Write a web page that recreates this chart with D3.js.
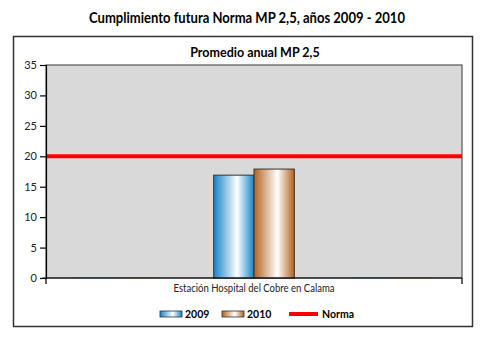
<!DOCTYPE html>
<html><head><meta charset="utf-8">
<script src="https://cdn.jsdelivr.net/npm/d3@7"></script>
<style>body{margin:0;background:#fff}svg{display:block}text{font-family:Lato,sans-serif}</style>
</head><body><svg id="c" width="486" height="339"></svg>
<script>
const categories = ["", "Estación Hospital del Cobre en Calama", ""];
const series2009 = [0, 16.9, 0];
const series2010 = [0, 17.9, 0];
const seriesNames = ["2009", "2010"];
const normaValue = 20;
const yTicks = [0, 5, 10, 15, 20, 25, 30, 35];
const title = "Cumplimiento futura Norma MP 2,5, años 2009 - 2010";
const subtitle = "Promedio anual MP 2,5";

const FONT = 'Lato,sans-serif';
const svg = d3.select("#c");
const defs = svg.append("defs");
function grad(id, c) {
  const g = defs.append("linearGradient").attr("id", id).attr("x1", "0%").attr("x2", "100%");
  g.append("stop").attr("offset", "0%").attr("stop-color", c);
  g.append("stop").attr("offset", "58%").attr("stop-color", "#ffffff");
  g.append("stop").attr("offset", "100%").attr("stop-color", c);
}
grad("gBlue", "#1583c9");
grad("gBrown", "#b3621e");
const fills = ["url(#gBlue)", "url(#gBrown)"];

function squeeze(sel, w) {
  const cur = sel.node().getComputedTextLength();
  if (cur > w) sel.attr("textLength", w).attr("lengthAdjust", "spacingAndGlyphs");
}

const t = svg.append("text").attr("x", 247).attr("y", 23).attr("text-anchor", "middle")
  .attr("font-size", 15.5).attr("font-weight", "bold").attr("fill", "#000").text(title);
squeeze(t, 316);
svg.append("rect").attr("x", 13.5).attr("y", 36.5).attr("width", 459).attr("height", 290)
  .attr("fill", "#fff").attr("stroke", "#333").attr("stroke-width", 1.5);
const st = svg.append("text").attr("x", 255).attr("y", 57).attr("text-anchor", "middle")
  .attr("font-size", 12.5).attr("font-weight", "bold").text(subtitle);
squeeze(st, 131);

const m = {l: 46, r: 462, t: 65, b: 278};
const x = d3.scaleBand().domain(d3.range(categories.length)).range([m.l, m.r]).paddingInner(0).paddingOuter(0);
const y = d3.scaleLinear().domain([0, 35]).range([m.b, m.t]);

svg.append("rect").attr("x", m.l).attr("y", m.t).attr("width", m.r - m.l).attr("height", m.b - m.t)
  .attr("fill", "#d9d9d9").attr("stroke", "#555").attr("stroke-width", 1.2);

const x1 = d3.scaleBand().domain([0, 1]).range([0, x.bandwidth()]).paddingOuter(0.72).paddingInner(0);
const data = [series2009, series2010];
data.forEach((s, si) => {
  svg.append("g").selectAll("rect").data(s).join("rect")
    .attr("x", (d, i) => x(i) + x1(si))
    .attr("y", d => y(d))
    .attr("width", x1.bandwidth())
    .attr("height", d => y(0) - y(d))
    .attr("fill", fills[si])
    .attr("stroke", d => d > 0 ? "#333" : "none").attr("stroke-width", 1);
  svg.append("g").selectAll("line").data(s.map((d, i) => [d, i]).filter(p => p[0] === 0)).join("line")
    .attr("x1", p => x(p[1]) + x1(si)).attr("x2", p => x(p[1]) + x1(si) + x1.bandwidth())
    .attr("y1", y(0) - 0.5).attr("y2", y(0) - 0.5)
    .attr("stroke", si === 0 ? "#4a8ec0" : "#a8733f").attr("stroke-width", 1).attr("opacity", 0.6);
});

svg.append("line").attr("x1", m.l).attr("x2", m.r).attr("y1", y(normaValue)).attr("y2", y(normaValue))
  .attr("stroke", "#ff0000").attr("stroke-width", 4);

const ya = svg.append("g").attr("transform", `translate(${m.l},0)`)
  .call(d3.axisLeft(y).tickValues(yTicks).tickSize(6).tickPadding(3));
ya.select(".domain").attr("stroke", "#000").attr("stroke-width", 1.2);
ya.selectAll(".tick line").attr("stroke", "#000").attr("stroke-width", 1.2);
ya.selectAll("text").attr("font-size", 11).attr("fill", "#222").style("font-family", FONT);

const xa = svg.append("g").attr("transform", `translate(0,${m.b})`)
  .call(d3.axisBottom(x).tickSize(0).tickPadding(6).tickFormat(i => categories[i]));
xa.select(".domain").remove();
xa.selectAll("text").attr("font-size", 11).attr("fill", "#222").style("font-family", FONT)
  .each(function(d, i) { if (categories[i]) squeeze(d3.select(this), 161); });
svg.append("line").attr("x1", m.l - 4).attr("x2", m.r).attr("y1", m.b).attr("y2", m.b).attr("stroke", "#000").attr("stroke-width", 1.2);
[m.l, m.r].forEach(v => svg.append("line").attr("x1", v).attr("x2", v).attr("y1", m.b).attr("y2", m.b + 6).attr("stroke", "#000").attr("stroke-width", 1.2));

const lg = svg.append("g").attr("font-size", 10.5).attr("font-weight", "bold");
const lx = [160, 222];
seriesNames.forEach((n, i) => {
  lg.append("rect").attr("x", lx[i]).attr("y", 311).attr("width", 22).attr("height", 6)
    .attr("fill", fills[i]).attr("stroke", "#333").attr("stroke-width", 0.8);
  lg.append("text").attr("x", lx[i] + 25).attr("y", 318).text(n);
});
lg.append("line").attr("x1", 289).attr("x2", 318).attr("y1", 314).attr("y2", 314).attr("stroke", "#ff0000").attr("stroke-width", 4);
lg.append("text").attr("x", 322).attr("y", 318).text("Norma");
</script></body></html>
